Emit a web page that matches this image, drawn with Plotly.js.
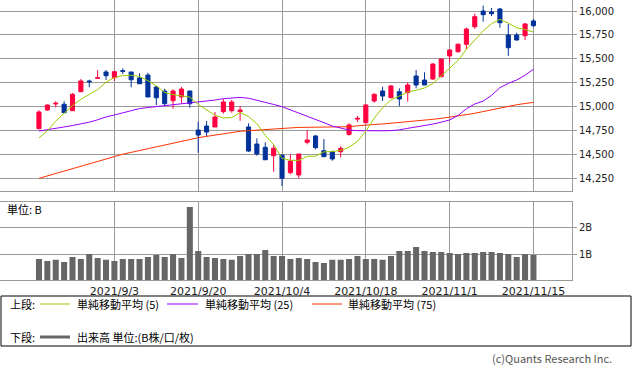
<!DOCTYPE html>
<html>
<head>
<meta charset="utf-8">
<script src="https://cdn.plot.ly/plotly-3.0.1.min.js"></script>
<style>html,body{margin:0;padding:0;background:#fff;}#chart{width:633px;height:372px;}</style>
</head>
<body>
<div id="chart"></div>
<script>
const dates = ['2021/8/23','2021/8/24','2021/8/25','2021/8/26','2021/8/27',
 '2021/8/30','2021/8/31','2021/9/1','2021/9/2','2021/9/3',
 '2021/9/7','2021/9/8','2021/9/9','2021/9/10',
 '2021/9/13','2021/9/14','2021/9/15','2021/9/16','2021/9/17',
 '2021/9/20','2021/9/21','2021/9/22','2021/9/23','2021/9/24',
 '2021/9/27','2021/9/28','2021/9/29','2021/9/30','2021/10/1',
 '2021/10/4','2021/10/5','2021/10/6','2021/10/7','2021/10/8',
 '2021/10/11','2021/10/12','2021/10/13','2021/10/14','2021/10/15',
 '2021/10/18','2021/10/19','2021/10/20','2021/10/21','2021/10/22',
 '2021/10/25','2021/10/26','2021/10/27','2021/10/28','2021/10/29',
 '2021/11/1','2021/11/2','2021/11/3','2021/11/4','2021/11/5',
 '2021/11/8','2021/11/9','2021/11/10','2021/11/11','2021/11/12',
 '2021/11/15'];

const openP = [14772,14967,15030,15027,14960, 15158,15270,15298,15364,15304,
 15378,15364,15301,15332, 15207,15165,15064,15103,15165,
 14758,14800,14790,14950,14960, 14950,14790,14612,14578,14490,
 14497,14313,14289,14630,14696, 14542,14532,14532,14713,14872,
 14834,15061,15165,15096,15158, 15148,15322,15280,15291,15315,
 15531,15576,15653,15836,16000, 15990,16021,15750,15750,15742, 15896];
const highP = [14964,15025,15058,15058,15144, 15291,15283,15384,15384,15377,
 15402,15364,15350,15356, 15218,15189,15183,15207,15170,
 14845,14852,14946,15082,15071, 15009,14828,14672,14630,14602,
 14497,14505,14508,14758,14706, 14664,14542,14588,14828,14904,
 15030,15140,15210,15228,15193, 15256,15384,15360,15454,15499,
 15604,15663,15826,15972,16056, 16032,16032,15865,15774,15875, 15917];
const lowP = [14772,14960,14995,14939,14960, 15158,15204,15294,15280,15270,
 15343,15204,15241,15103, 15019,15009,14981,15037,14991,
 14521,14689,14790,14929,14939, 14855,14529,14490,14447,14323,
 14174,14296,14254,14609,14557, 14480,14438,14473,14699,14842,
 14834,15043,15061,15089,15009, 15054,15193,15228,15280,15308,
 15461,15565,15600,15815,15889, 15948,15826,15531,15690,15698, 15830];
const closeP = [14946,15019,15037,14939,15131, 15270,15262,15304,15325,15367,
 15371,15283,15241,15103, 15095,15033,15165,15186,15033,
 14706,14737,14894,15051,15051, 14967,14539,14508,14448,14567,
 14254,14435,14508,14654,14574, 14480,14456,14567,14811,14880,
 15019,15131,15113,15218,15082, 15228,15228,15228,15447,15499,
 15593,15653,15812,15941,15962, 15972,15878,15617,15698,15865, 15847];

const ma5 = [14676,14749,14851,14931,15014, 15079,15128,15181,15258,15306,
 15326,15330,15317,15273, 15219,15151,15127,15116,15102,
 15025,14965,14911,14884,14888, 14940,14900,14823,14703,14606,
 14463,14442,14442,14484,14485, 14530,14534,14546,14578,14639,
 14747,14882,14991,15072,15113, 15154,15174,15197,15243,15326,
 15399,15484,15601,15700,15792, 15868,15913,15874,15825,15806, 15781];
const ma25 = [14748,14760,14775,14790,14805, 14820,14840,14865,14895,14915,
 14940,14962,14982,14993, 15002,15012,15022,15036,15045,
 15050,15060,15071,15085,15095, 15099,15090,15071,15050,15025,
 15002,14970,14935,14905,14870, 14835,14800,14775,14758,14752,
 14750,14750,14750,14752,14760, 14776,14790,14800,14820,14840,
 14863,14910,14980,15030,15060, 15120,15200,15245,15280,15330, 15392];
const ma75 = [14254,14280,14306,14332,14358, 14383,14409,14435,14461,14487,
 14506,14525,14545,14564, 14583,14602,14621,14640,14659,
 14678,14692,14706,14718,14730, 14745,14751,14758,14764,14768,
 14772,14780,14785,14786,14786, 14786,14787,14789,14793,14802,
 14811,14816,14821,14828,14835, 14842,14849,14859,14870,14880,
 14891,14905,14919,14933,14952, 14971,14990,15009,15022,15035, 15047];

const volume = [0.81,0.74,0.78,0.70,0.89, 0.81,1.00,0.85,0.78,0.74,
 0.81,0.81,0.81,0.89, 0.97,0.89,1.00,0.85,2.80,
 1.12,0.89,0.85,0.81,0.78, 0.93,1.00,1.00,1.16,0.93,
 0.93,0.81,0.85,0.81,0.70, 0.66,0.78,0.78,0.81,0.93,
 0.81,0.81,0.78,0.93,1.12, 1.12,1.27,1.12,1.08,1.08,
 1.04,1.00,1.04,1.04,1.08, 1.08,1.04,1.00,0.89,1.00, 0.97];

const tickDates = ['2021/9/3','2021/9/20','2021/10/4','2021/10/18','2021/11/1','2021/11/15'];
const priceTicks = [14250,14500,14750,15000,15250,15500,15750,16000];
const volTicks = [1,2];
const volTickText = ['1B','2B'];
const legendLabels = ['単純移動平均 (5)','単純移動平均 (25)','単純移動平均 (75)'];
const volLegendLabel = '出来高 単位:(B株/口/枚)';

const W = 633, H = 372;
const X = p => p / W;
const Y = p => 1 - p / H;
const GRID = '#9a9a9a';
const RED = '#ff0040', BLUE = '#003399';
const C5 = '#99cc00', C25 = '#9900ff', C75 = '#ff3300', VOL = '#666666';
const xDom = [0, X(572)];
const xRange = [-4.65, 63.6];
const jp = '"Noto Sans CJK JP", "Noto Sans", sans-serif';

const traces = [
  {type:'candlestick', x:dates, open:openP, high:highP, low:lowP, close:closeP,
   xaxis:'x', yaxis:'y', hoverinfo:'skip',
   increasing:{line:{color:RED, width:1}, fillcolor:RED},
   decreasing:{line:{color:BLUE, width:1}, fillcolor:BLUE}},
  {type:'scatter', mode:'lines', x:dates, y:ma75, line:{color:C75, width:1}, xaxis:'x', yaxis:'y', hoverinfo:'skip'},
  {type:'scatter', mode:'lines', x:dates, y:ma25, line:{color:C25, width:1}, xaxis:'x', yaxis:'y', hoverinfo:'skip'},
  {type:'scatter', mode:'lines', x:dates, y:ma5, line:{color:C5, width:1}, xaxis:'x', yaxis:'y', hoverinfo:'skip'},
  {type:'bar', x:dates, y:volume, marker:{color:VOL, line:{width:0}}, xaxis:'x2', yaxis:'y2', hoverinfo:'skip'}
];

const axX = {
  type:'category', domain:xDom, range:xRange, tickmode:'array', tickvals:tickDates, ticktext:tickDates,
  showgrid:true, gridcolor:GRID, gridwidth:1, showline:true, mirror:true, linecolor:GRID, linewidth:1,
  zeroline:false, ticks:'', fixedrange:true
};

const shapes = [
  {type:'rect', xref:'paper', yref:'paper', x0:X(1), x1:X(631), y0:Y(346), y1:Y(296), line:{color:'#000', width:1}},
  {type:'line', xref:'paper', yref:'paper', x0:X(40), x1:X(70), y0:Y(304), y1:Y(304), line:{color:C5, width:1}},
  {type:'line', xref:'paper', yref:'paper', x0:X(167), x1:X(198), y0:Y(304), y1:Y(304), line:{color:C25, width:1}},
  {type:'line', xref:'paper', yref:'paper', x0:X(312), x1:X(342), y0:Y(304), y1:Y(304), line:{color:C75, width:1}},
  {type:'line', xref:'paper', yref:'paper', x0:X(40), x1:X(70), y0:Y(337), y1:Y(337), line:{color:VOL, width:3}}
];

const ann = (text, px, py, opt={}) => Object.assign({
  text, xref:'paper', yref:'paper', x:X(px), y:Y(py), xanchor:'left', yanchor:'middle',
  showarrow:false, font:{family:jp, size:11, color:'#000'}
}, opt);

const annotations = [
  ann('単位: B', 5, 209),
  ann('上段:', 8, 304),
  ann(legendLabels[0], 75, 304),
  ann(legendLabels[1], 203, 304),
  ann(legendLabels[2], 346, 304),
  ann('下段:', 8, 337),
  ann(volLegendLabel, 75, 337),
  ann('(c)Quants Research Inc.', 614, 358, {xanchor:'right', font:{family:jp, size:11, color:'#555'}})
];

const layout = {
  width:W, height:H, margin:{l:0, r:0, t:0, b:0, pad:0},
  paper_bgcolor:'#fff', plot_bgcolor:'#fff', showlegend:false,
  xaxis:Object.assign({}, axX, {anchor:'y', showticklabels:false, rangeslider:{visible:false}}),
  yaxis:{domain:[Y(190.7), 1], range:[14125, 16115], side:'right', anchor:'x',
    tickmode:'array', tickvals:priceTicks, tickformat:',d',
    ticks:'outside', ticklen:4, tickcolor:GRID, showgrid:true, gridcolor:GRID,
    showline:true, mirror:true, linecolor:GRID, zeroline:false, fixedrange:true,
    tickfont:{family:'DejaVu Sans', size:10, color:'#222'}},
  xaxis2:Object.assign({}, axX, {anchor:'y2', showticklabels:true,
    tickfont:{family:'DejaVu Sans', size:11, color:'#222'}}),
  yaxis2:{domain:[Y(280.3), Y(201.7)], range:[0, 3], side:'right', anchor:'x2',
    tickmode:'array', tickvals:volTicks, ticktext:volTickText,
    ticks:'outside', ticklen:4, tickcolor:GRID, showgrid:true, gridcolor:GRID,
    showline:true, mirror:true, linecolor:GRID, zeroline:false, fixedrange:true,
    tickfont:{family:'DejaVu Sans', size:10, color:'#222'}},
  bargap:0.28,
  shapes, annotations
};

Plotly.newPlot('chart', traces, layout, {staticPlot:true, displayModeBar:false});
</script>
</body>
</html>
